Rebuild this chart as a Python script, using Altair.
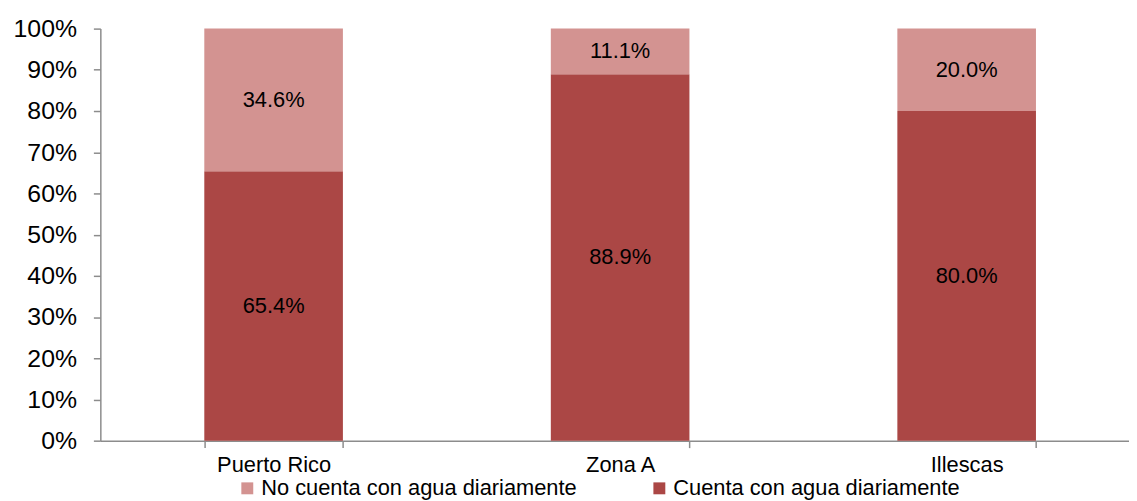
import altair as alt
import pandas as pd

categories = ["Puerto Rico", "Zona A", "Illescas"]
no_cuenta = [0.346, 0.111, 0.200]
cuenta = [0.654, 0.889, 0.800]
series_names = ["No cuenta con agua diariamente", "Cuenta con agua diariamente"]
series_colors = ["#D39391", "#AB4745"]

rows = []
for i, c in enumerate(categories):
    rows.append({"cat": c, "serie": series_names[1], "value": cuenta[i], "ord": 0})
    rows.append({"cat": c, "serie": series_names[0], "value": no_cuenta[i], "ord": 1})
df = pd.DataFrame(rows)

FONT = "Liberation Sans"
AXIS_GRAY = "#8C8C8C"

x = alt.X(
    "cat:N",
    sort=categories,
    title=None,
    scale=alt.Scale(range=[0, 1047], paddingInner=0.6, paddingOuter=0.3),
    axis=alt.Axis(
        labelAngle=0,
        tickBand="extent",
        tickSize=7,
        tickColor=AXIS_GRAY,
        domainColor=AXIS_GRAY,
        domainWidth=1.5,
        tickWidth=1.5,
        labelFont=FONT,
        labelFontSize=22,
        labelColor="black",
        labelPadding=7,
        grid=False,
    ),
)

bars = alt.Chart(df).mark_bar().encode(
    x=x,
    y=alt.Y(
        "value:Q",
        stack="zero",
        title=None,
        scale=alt.Scale(domain=[0, 1], nice=False),
        axis=alt.Axis(
            format=".0%",
            values=[i / 10 for i in range(11)],
            tickSize=7,
            tickColor=AXIS_GRAY,
            domainColor=AXIS_GRAY,
            domainWidth=1.5,
            tickWidth=1.5,
            labelFont=FONT,
            labelFontSize=25,
            labelColor="black",
            labelPadding=17,
            grid=False,
        ),
    ),
    color=alt.Color(
        "serie:N",
        scale=alt.Scale(domain=series_names, range=series_colors),
        legend=alt.Legend(
            title=None,
            orient="none",
            legendX=137,
            legendY=452,
            direction="horizontal",
            symbolType="square",
            symbolSize=144,
            symbolStrokeWidth=0,
            labelFont=FONT,
            labelFontSize=22,
            labelColor="black",
            labelOffset=3,
            labelLimit=500,
            columnPadding=72,
            padding=0,
        ),
    ),
    order=alt.Order("ord:Q", sort="ascending"),
)

labels = alt.Chart(df).transform_stack(
    stack="value", groupby=["cat"], as_=["y0", "y1"], sort=[alt.SortField("ord", order="ascending")]
).transform_calculate(
    mid="(datum.y0 + datum.y1) / 2"
).mark_text(font=FONT, fontSize=22, color="black").encode(
    x=alt.X("cat:N", sort=categories),
    y=alt.Y("mid:Q"),
    text=alt.Text("value:Q", format=".1%"),
)

chart = alt.layer(bars, labels).properties(
    width=1036,
    height=415,
    autosize=alt.AutoSizeParams(type="none"),
    padding={"left": 93, "top": 19, "right": 0, "bottom": 59},
).configure_view(stroke=None)

chart.save("out.html", embed_options={"renderer": "svg", "actions": False})
